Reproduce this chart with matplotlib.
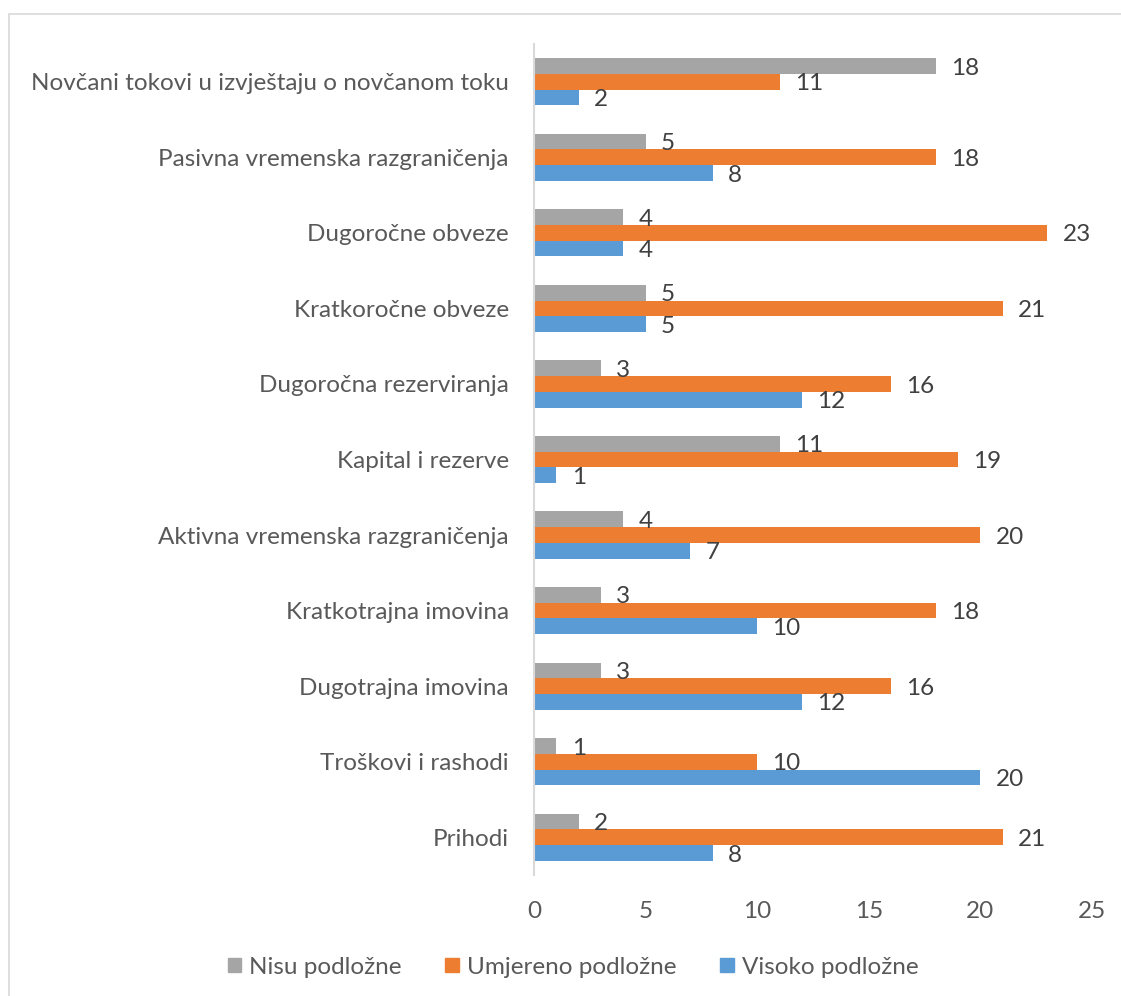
import matplotlib
matplotlib.use("Agg")
import matplotlib.pyplot as plt
from matplotlib.patches import Rectangle, Patch
import numpy as np

# --- data (bottom to top, as drawn) ---
categories = [
    "Prihodi",
    "Troškovi i rashodi",
    "Dugotrajna imovina",
    "Kratkotrajna imovina",
    "Aktivna vremenska razgraničenja",
    "Kapital i rezerve",
    "Dugoročna rezerviranja",
    "Kratkoročne obveze",
    "Dugoročne obveze",
    "Pasivna vremenska razgraničenja",
    "Novčani tokovi u izvještaju o novčanom toku",
]
nisu = [2, 1, 3, 3, 4, 11, 3, 5, 4, 5, 18]
umjereno = [21, 10, 16, 18, 20, 19, 16, 21, 23, 18, 11]
visoko = [8, 20, 12, 10, 7, 1, 12, 5, 4, 8, 2]
series_names = ["Nisu podložne", "Umjereno podložne", "Visoko podložne"]
x_ticks = [0, 5, 10, 15, 20, 25]

colors = ["#A5A5A5", "#ED7D31", "#5B9BD5"]
plt.rcParams["font.family"] = ["Lato", "DejaVu Sans"]
fs = 17.5

W, H = 1121, 996
fig = plt.figure(figsize=(W / 100, H / 100), dpi=100)
ax = fig.add_axes([534 / W, 1 - 875 / H, (1092 - 534) / W, (875 - 44) / H])

# outer chart frame
fig.patches.append(Rectangle((9 / W, -0.01), 1.0, 1 - 14 / H + 0.01,
                             transform=fig.transFigure, fill=False,
                             edgecolor="#D9D9D9", linewidth=1.2))

y = np.arange(len(categories))
h = 0.208
offsets = [h, 0, -h]
for vals, off, col in zip([nisu, umjereno, visoko], offsets, colors):
    bars = ax.barh(y + off, vals, height=h, color=col, linewidth=0)
    for b, v in zip(bars, vals):
        ax.annotate(str(v), (b.get_width(), b.get_y() + b.get_height() / 2),
                    xytext=(11, -1.5), textcoords="offset points",
                    ha="left", va="center", fontsize=fs, color="#404040")

ax.set_xlim(0, 25)
ax.set_ylim(-0.5, len(categories) - 0.5)
ax.set_xticks(x_ticks)
ax.set_yticks(y)
ax.set_yticklabels(categories)
ax.tick_params(axis="x", length=0, pad=19, labelsize=fs, labelcolor="#595959")
ax.tick_params(axis="y", length=0, pad=18, labelsize=fs, labelcolor="#595959")
for s in ["top", "right", "bottom"]:
    ax.spines[s].set_visible(False)
ax.spines["left"].set_color("#D9D9D9")
ax.spines["left"].set_linewidth(1.5)

handles = [Patch(color=c) for c in colors]
fig.legend(handles, series_names, loc="center", ncol=3,
           bbox_to_anchor=(573 / W, 1 - 967 / H), frameon=False,
           fontsize=fs, labelcolor="#595959", handlelength=0.55,
           handleheight=0.55, handletextpad=0.33, columnspacing=1.8)

fig.savefig("out.png", dpi=100, facecolor="white")
